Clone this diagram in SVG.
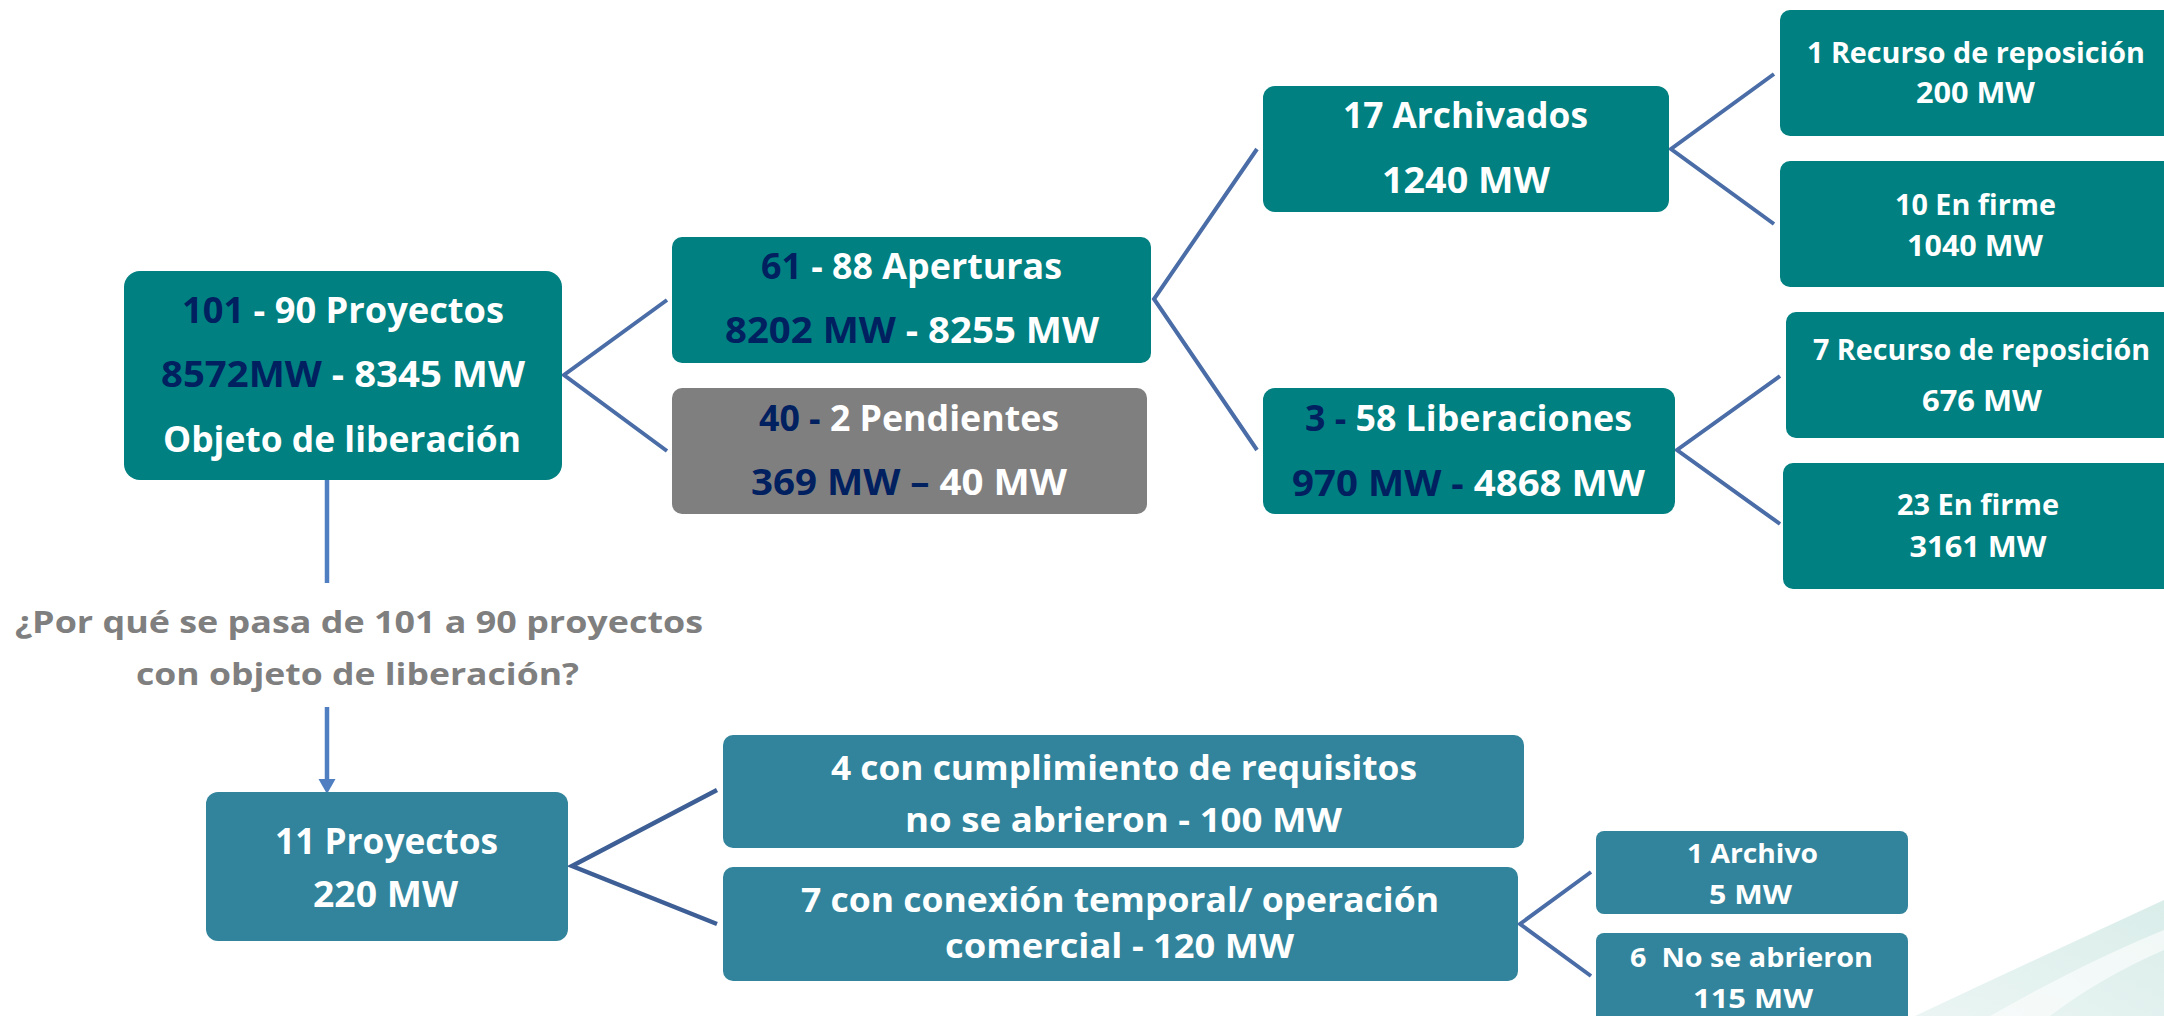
<svg xmlns="http://www.w3.org/2000/svg" width="2164" height="1016" viewBox="0 0 2164 1016">
<defs>
<style>
.teal{fill:#008080}
.gray{fill:#7f7f7f}
.blue{fill:#31849b}
.c{font-family:"Open Sans","Liberation Sans",sans-serif;font-weight:700;font-size:36px;fill:#ffffff;text-anchor:middle}
.o{font-family:"Open Sans","Liberation Sans",sans-serif;font-weight:700;fill:#ffffff;text-anchor:middle}
.n{fill:#002060}
.q{font-family:"Open Sans","Liberation Sans",sans-serif;font-weight:700;font-size:31px;fill:#7f7f7f;text-anchor:middle}
.ln{fill:none;stroke:#4a6da7;stroke-width:4;stroke-linejoin:miter}
.ln2{fill:none;stroke:#3d5f95;stroke-width:4.5}
.ar{fill:none;stroke:#4f7fc0;stroke-width:4.5}
</style>
<linearGradient id="sw" x1="0" y1="1" x2="1" y2="0">
<stop offset="0" stop-color="#e4f2f0"/>
<stop offset="1" stop-color="#cde7e2"/>
</linearGradient>
</defs>
<rect width="2164" height="1016" fill="#ffffff"/>
<g id="swoosh">
<path d="M1915,1016 Q2045,955 2164,900 L2164,1016 Z" fill="url(#sw)" opacity="0.75"/>
<path d="M1990,1016 Q2085,962 2164,930 L2164,950 Q2100,978 2050,1016 Z" fill="#ffffff" opacity="0.6"/>
</g>
<g id="connectors">
<polyline class="ln" points="667,300 564,375 667,451"/>
<polyline class="ln" points="1257,149 1154,299 1257,450"/>
<polyline class="ln" points="1774,74 1671,149 1774,224"/>
<polyline class="ln" points="1780,376 1677,450 1780,524"/>
<polyline class="ln2" points="717,790 572,866 717,924"/>
<polyline class="ln" points="1591,872 1520,924 1591,976"/>
<line class="ar" x1="327" y1="476" x2="327" y2="583"/>
<line class="ar" x1="327" y1="707" x2="327" y2="781"/>
<polygon points="318.5,779 335.5,779 327,794" fill="#4f7fc0"/>
</g>
<g id="root">
<rect class="teal" x="124" y="271" width="438" height="209" rx="16"/>
<text class="c" x="343" y="323" textLength="322" lengthAdjust="spacingAndGlyphs"><tspan class="n">101</tspan> - 90 Proyectos</text>
<text class="c" x="343" y="387" textLength="364" lengthAdjust="spacingAndGlyphs"><tspan class="n">8572MW</tspan> - 8345 MW</text>
<text class="c" x="342" y="452" textLength="358" lengthAdjust="spacingAndGlyphs">Objeto de liberación</text>
</g>
<g id="aperturas">
<rect class="teal" x="672" y="237" width="479" height="126" rx="10"/>
<text class="c" x="911.5" y="279" textLength="301" lengthAdjust="spacingAndGlyphs"><tspan class="n">61</tspan> - 88 Aperturas</text>
<text class="c" x="912" y="343" textLength="374" lengthAdjust="spacingAndGlyphs"><tspan class="n">8202 MW</tspan> - 8255 MW</text>
</g>
<g id="pendientes">
<rect class="gray" x="672" y="388" width="475" height="126" rx="10"/>
<text class="c" x="909" y="431" textLength="300" lengthAdjust="spacingAndGlyphs"><tspan class="n">40 - </tspan>2 Pendientes</text>
<text class="c" x="909" y="495" textLength="316" lengthAdjust="spacingAndGlyphs"><tspan class="n">369 MW – </tspan>40 MW</text>
</g>
<g id="archivados">
<rect class="teal" x="1263" y="86" width="406" height="126" rx="12"/>
<text class="c" x="1465.5" y="128" textLength="245" lengthAdjust="spacingAndGlyphs">17 Archivados</text>
<text class="c" x="1466" y="193" textLength="168" lengthAdjust="spacingAndGlyphs">1240 MW</text>
</g>
<g id="liberaciones">
<rect class="teal" x="1263" y="388" width="412" height="126" rx="12"/>
<text class="c" x="1468.5" y="431" textLength="327" lengthAdjust="spacingAndGlyphs"><tspan class="n">3 - </tspan>58 Liberaciones</text>
<text class="c" x="1468.5" y="496" textLength="353" lengthAdjust="spacingAndGlyphs"><tspan class="n">970 MW - </tspan>4868 MW</text>
</g>
<g id="recurso1">
<rect class="teal" x="1780" y="10" width="400" height="126" rx="10"/>
<text class="o" font-size="29" x="1976" y="63" textLength="338" lengthAdjust="spacingAndGlyphs">1 Recurso de reposición</text>
<text class="o" font-size="29" x="1975.5" y="103" textLength="119" lengthAdjust="spacingAndGlyphs">200 MW</text>
</g>
<g id="firme1">
<rect class="teal" x="1780" y="161" width="400" height="126" rx="10"/>
<text class="o" font-size="29" x="1975.5" y="215" textLength="161" lengthAdjust="spacingAndGlyphs">10 En firme</text>
<text class="o" font-size="29" x="1975" y="256" textLength="136" lengthAdjust="spacingAndGlyphs">1040 MW</text>
</g>
<g id="recurso2">
<rect class="teal" x="1786" y="312" width="400" height="126" rx="10"/>
<text class="o" font-size="29" x="1981.5" y="360" textLength="337" lengthAdjust="spacingAndGlyphs">7 Recurso de reposición</text>
<text class="o" font-size="29" x="1982" y="411" textLength="120" lengthAdjust="spacingAndGlyphs">676 MW</text>
</g>
<g id="firme2">
<rect class="teal" x="1783" y="463" width="400" height="126" rx="10"/>
<text class="o" font-size="29" x="1978" y="515" textLength="162" lengthAdjust="spacingAndGlyphs">23 En firme</text>
<text class="o" font-size="29" x="1978" y="557" textLength="137" lengthAdjust="spacingAndGlyphs">3161 MW</text>
</g>
<g id="pregunta">
<text class="q" x="359" y="633" textLength="688" lengthAdjust="spacingAndGlyphs">¿Por qué se pasa de 101 a 90 proyectos</text>
<text class="q" x="357.5" y="685" textLength="443" lengthAdjust="spacingAndGlyphs">con objeto de liberación?</text>
</g>
<g id="once">
<rect class="blue" x="206" y="792" width="362" height="149" rx="12"/>
<text class="c" x="386.5" y="854" textLength="223" lengthAdjust="spacingAndGlyphs">11 Proyectos</text>
<text class="c" x="385.5" y="907" textLength="145" lengthAdjust="spacingAndGlyphs">220 MW</text>
</g>
<g id="cumplimiento">
<rect class="blue" x="723" y="735" width="801" height="113" rx="10"/>
<text class="o" font-size="34" x="1124" y="780" textLength="586" lengthAdjust="spacingAndGlyphs">4 con cumplimiento de requisitos</text>
<text class="o" font-size="34" x="1123.5" y="832" textLength="437" lengthAdjust="spacingAndGlyphs">no se abrieron - 100 MW</text>
</g>
<g id="conexion">
<rect class="blue" x="723" y="867" width="795" height="114" rx="10"/>
<text class="o" font-size="34" x="1120" y="912" textLength="638" lengthAdjust="spacingAndGlyphs">7 con conexión temporal/ operación</text>
<text class="o" font-size="34" x="1119.5" y="958" textLength="349" lengthAdjust="spacingAndGlyphs">comercial - 120 MW</text>
</g>
<g id="archivo">
<rect class="blue" x="1596" y="831" width="312" height="83" rx="8"/>
<text class="o" font-size="27" x="1752.5" y="863" textLength="131" lengthAdjust="spacingAndGlyphs">1 Archivo</text>
<text class="o" font-size="27" x="1750.5" y="904" textLength="83" lengthAdjust="spacingAndGlyphs">5 MW</text>
</g>
<g id="noabrieron">
<rect class="blue" x="1596" y="933" width="312" height="100" rx="8"/>
<text class="o" font-size="27" x="1751.5" y="967" textLength="243" lengthAdjust="spacingAndGlyphs" xml:space="preserve">6  No se abrieron</text>
<text class="o" font-size="27" x="1753" y="1008" textLength="120" lengthAdjust="spacingAndGlyphs">115 MW</text>
</g>
</svg>
